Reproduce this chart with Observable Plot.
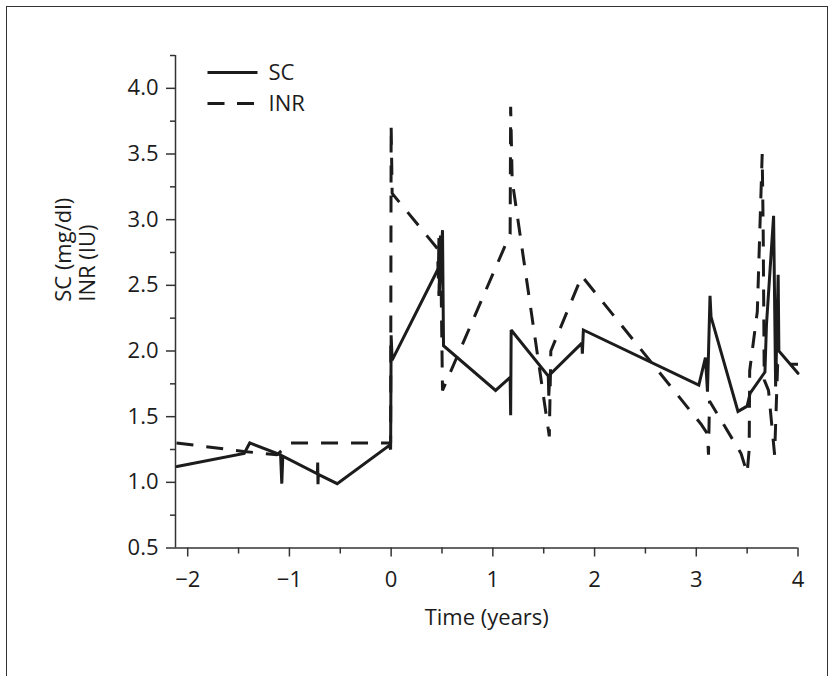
<!DOCTYPE html>
<html>
<head>
<meta charset="utf-8">
<script src="https://cdn.jsdelivr.net/npm/d3@7"></script>
<script src="https://cdn.jsdelivr.net/npm/@observablehq/plot@0.6"></script>
<style>
  html, body { margin: 0; padding: 0; background: #fff; }
  #wrap { position: relative; width: 835px; height: 676px; overflow: hidden; background: #fff; }
  #frame { position: absolute; left: 6px; top: 6px; width: 822px; height: 690px; border: 1.5px solid #333; box-sizing: border-box; pointer-events: none; }
  #legend { position: absolute; left: 0; top: 0; pointer-events: none; }
</style>
</head>
<body>
<div id="wrap"></div>
<script>
// ---- Data ----
const scTime  = [-2.105, -1.445, -1.39, -1.087, -1.075, -1.065, -0.725, -0.722, -0.719, -0.716, -0.53, -0.02, -0.005, 0.0, 0.01, 0.465, 0.47, 0.475, 0.505, 0.515, 1.027, 1.17, 1.175, 1.18, 1.545, 1.55, 1.56, 1.875, 1.88, 1.89, 3.025, 3.09, 3.11, 3.135, 3.145, 3.41, 3.50, 3.53, 3.675, 3.69, 3.76, 3.78, 3.805, 3.812, 4.0];
const scValue = [1.12, 1.22, 1.30, 1.21, 0.99, 1.20, 1.065, 1.15, 0.985, 1.06, 0.99, 1.28, 1.25, 2.12, 1.93, 2.63, 2.86, 2.45, 2.92, 2.04, 1.70, 1.80, 1.51, 2.16, 1.81, 1.66, 1.82, 2.06, 1.98, 2.16, 1.74, 1.95, 1.69, 2.42, 2.26, 1.54, 1.58, 1.68, 1.84, 2.20, 3.03, 1.73, 2.58, 2.00, 1.83];

const inrTime  = [-2.11, -1.45, -1.12, -1.0, -0.005, 0.0, 0.01, 0.455, 0.47, 0.485, 0.505, 1.17, 1.175, 1.19, 1.555, 1.57, 1.875, 3.05, 3.11, 3.12, 3.13, 3.44, 3.50, 3.52, 3.525, 3.60, 3.648, 3.658, 3.668, 3.71, 3.77, 3.80, 4.0];
const inrValue = [1.30, 1.235, 1.21, 1.30, 1.30, 3.72, 3.20, 2.78, 2.42, 2.88, 1.70, 2.89, 3.86, 3.30, 1.35, 2.00, 2.57, 1.44, 1.37, 1.21, 1.62, 1.22, 1.07, 1.25, 1.85, 2.30, 3.50, 2.90, 1.78, 1.70, 1.21, 1.90, 1.90];

const xMajor = [-2, -1, 0, 1, 2, 3, 4];
const xMinor = [-1.5, -0.5, 0.5, 1.5, 2.5, 3.5];
const yMajor = [0.5, 1.0, 1.5, 2.0, 2.5, 3.0, 3.5, 4.0];
const yMinor = [0.75, 1.25, 1.75, 2.25, 2.75, 3.25, 3.75, 4.25];

const legendItems = [
  {label: "SC", dash: null},
  {label: "INR", dash: "17,12.5"}
];

const sc  = scTime.map((t, i) => ({t, v: scValue[i]}));
const inr = inrTime.map((t, i) => ({t, v: inrValue[i]}));

const ink = "#1c1c1c";
const axisInk = "#333";
const font = "'Open Sans', 'Noto Sans', sans-serif";
const fs = 22;
const fmtMinus = d => d < 0 ? "\u2212" + Math.abs(d) : String(d);

const chart = Plot.plot({
  width: 835,
  height: 676,
  marginLeft: 175,
  marginRight: 37.5,
  marginTop: 55,
  marginBottom: 128.5,
  style: {fontFamily: font, fontSize: fs + "px", color: ink, background: "transparent"},
  x: {domain: [-2.12, 4], axis: null},
  y: {domain: [0.5, 4.25], axis: null},
  marks: [
    Plot.axisY({ticks: yMinor, tickSize: 5, tickFormat: () => "", strokeWidth: 1.5, stroke: axisInk, label: null}),
    Plot.axisY({ticks: yMajor, tickSize: 9, tickPadding: 8, tickFormat: d3.format(".1f"), strokeWidth: 1.5, stroke: axisInk, fill: ink, fontSize: fs, label: null}),
    Plot.axisX({ticks: xMinor, tickSize: 6, tickFormat: () => "", strokeWidth: 1.5, stroke: axisInk, label: null}),
    Plot.axisX({ticks: xMajor, tickSize: 9, tickPadding: 14, tickFormat: fmtMinus, strokeWidth: 1.5, stroke: axisInk, fill: ink, fontSize: fs, label: null}),
    Plot.ruleX([-2.12], {stroke: axisInk, strokeWidth: 1.5}),
    Plot.ruleY([0.5], {stroke: axisInk, strokeWidth: 1.5}),
    Plot.line(inr, {x: "t", y: "v", stroke: ink, strokeWidth: 3, strokeDasharray: "17,13", strokeLinejoin: "miter", strokeLinecap: "butt"}),
    Plot.line(sc, {x: "t", y: "v", stroke: ink, strokeWidth: 3, strokeLinejoin: "miter", strokeMiterlimit: 2}),
    Plot.text(["Time (years)"], {frameAnchor: "bottom", dy: 77, text: d => d, fill: ink, fontSize: fs}),
    Plot.text(["SC (mg/dl)"], {frameAnchor: "left", rotate: -90, dx: -112, text: d => d, fill: ink, fontSize: fs}),
    Plot.text(["INR (IU)"], {frameAnchor: "left", rotate: -90, dx: -88, text: d => d, fill: ink, fontSize: fs})
  ]
});

const wrap = document.getElementById("wrap");
wrap.appendChild(chart);

// Legend overlay
const leg = d3.select(wrap).append("svg").attr("id", "legend").attr("width", 835).attr("height", 140);
legendItems.forEach((d, i) => {
  const y = 72.5 + i * 31;
  leg.append("line").attr("x1", 207.5).attr("x2", 257.5).attr("y1", y).attr("y2", y)
    .attr("stroke", ink).attr("stroke-width", 3).attr("stroke-dasharray", d.dash);
  leg.append("text").attr("x", 268.5).attr("y", y).attr("dy", "0.36em")
    .attr("font-family", font).attr("font-size", fs).attr("fill", ink).text(d.label);
});

const frame = document.createElement("div");
frame.id = "frame";
wrap.appendChild(frame);
</script>
</body>
</html>
